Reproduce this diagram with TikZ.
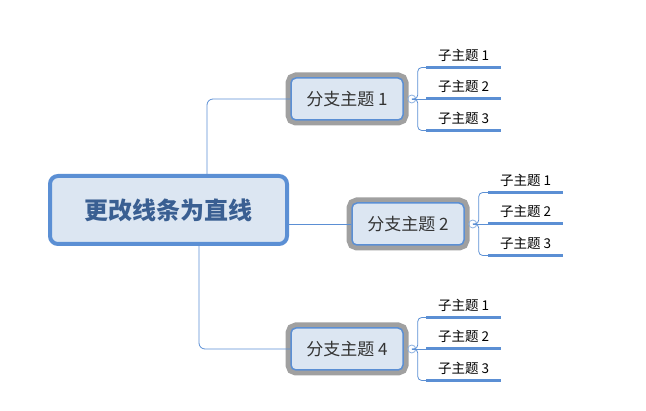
\documentclass[tikz,border=0pt]{standalone}
\usepackage{fontspec}
\setmainfont{Noto Sans CJK SC}
\usetikzlibrary{shapes.geometric, arrows}
\definecolor{linkblue}{HTML}{5B8FD4}
\definecolor{boxfill}{HTML}{DCE6F2}
\definecolor{framegray}{HTML}{A0A0A0}
\definecolor{roottext}{HTML}{3A5F92}
\tikzstyle{root} = [rectangle, rounded corners=8pt, minimum width=237pt, minimum height=68pt, inner sep=0pt, text centered, draw=linkblue, line width=4pt, fill=boxfill, text=roottext, font=\fontsize{24}{24}\selectfont\bfseries]
\tikzstyle{branch} = [rectangle, rounded corners=5pt, minimum width=112pt, minimum height=42pt, inner sep=0pt, text centered, draw=linkblue, line width=1.5pt, fill=boxfill, text=black!80, font=\fontsize{17}{17}\selectfont, preaction={draw=framegray, line width=11pt}]
\tikzstyle{sub} = [rectangle, anchor=south west, minimum width=75pt, inner xsep=0pt, inner ysep=0pt, text depth=7pt, text centered, font=\fontsize{13.5}{13.5}\selectfont]
\tikzstyle{subline} = [draw=linkblue, line width=3pt]
\tikzstyle{knob} = [circle, draw=linkblue!70, line width=0.8pt, minimum size=8pt, inner sep=0pt]
\tikzstyle{link} = [draw=linkblue, line width=0.8pt, rounded corners=6pt]

\begin{document}
\begin{tikzpicture}[x=1pt, y=-1pt]
    \useasboundingbox (0,0) rectangle (646,411);

    \node (main) [root] at (168.5,210) {更改线条为直线};
    \node (br1) [branch] at (347,99) {分支主题 1};
    \node (br2) [branch] at (408,224) {分支主题 2};
    \node (br4) [branch] at (347,349) {分支主题 4};

    \draw [link] ([xshift=38.5pt]main.north) |- (br1.west);
    \draw [link] (br2.west -| main.east) -- (br2.west);
    \draw [link] ([xshift=30.5pt]main.south) |- (br4.west);

    % sub topics
    \foreach \b/\x/\y in {br1/426/99, br2/488/224, br4/426/349} {
        \node (\b k) [knob] at ([xshift=8pt]\b.east) {};
        \node (\b s1) [sub] at (\x,\y-31.5) {子主题 1};
        \node (\b s2) [sub] at (\x,\y) {子主题 2};
        \node (\b s3) [sub] at (\x,\y+31.5) {子主题 3};
        \foreach \i in {1,2,3}
            \draw [subline] (\b s\i.south west) -- (\b s\i.south east);
        \draw [link, rounded corners=4pt] (\b k.center) -- ++(6,0) |- (\b s1.south west);
        \draw [link, rounded corners=4pt] (\b k.center) -- ++(6,0) |- (\b s3.south west);
        \draw [link] (\b k.center) -- (\b s2.south west);
    }

\end{tikzpicture}
\end{document}
